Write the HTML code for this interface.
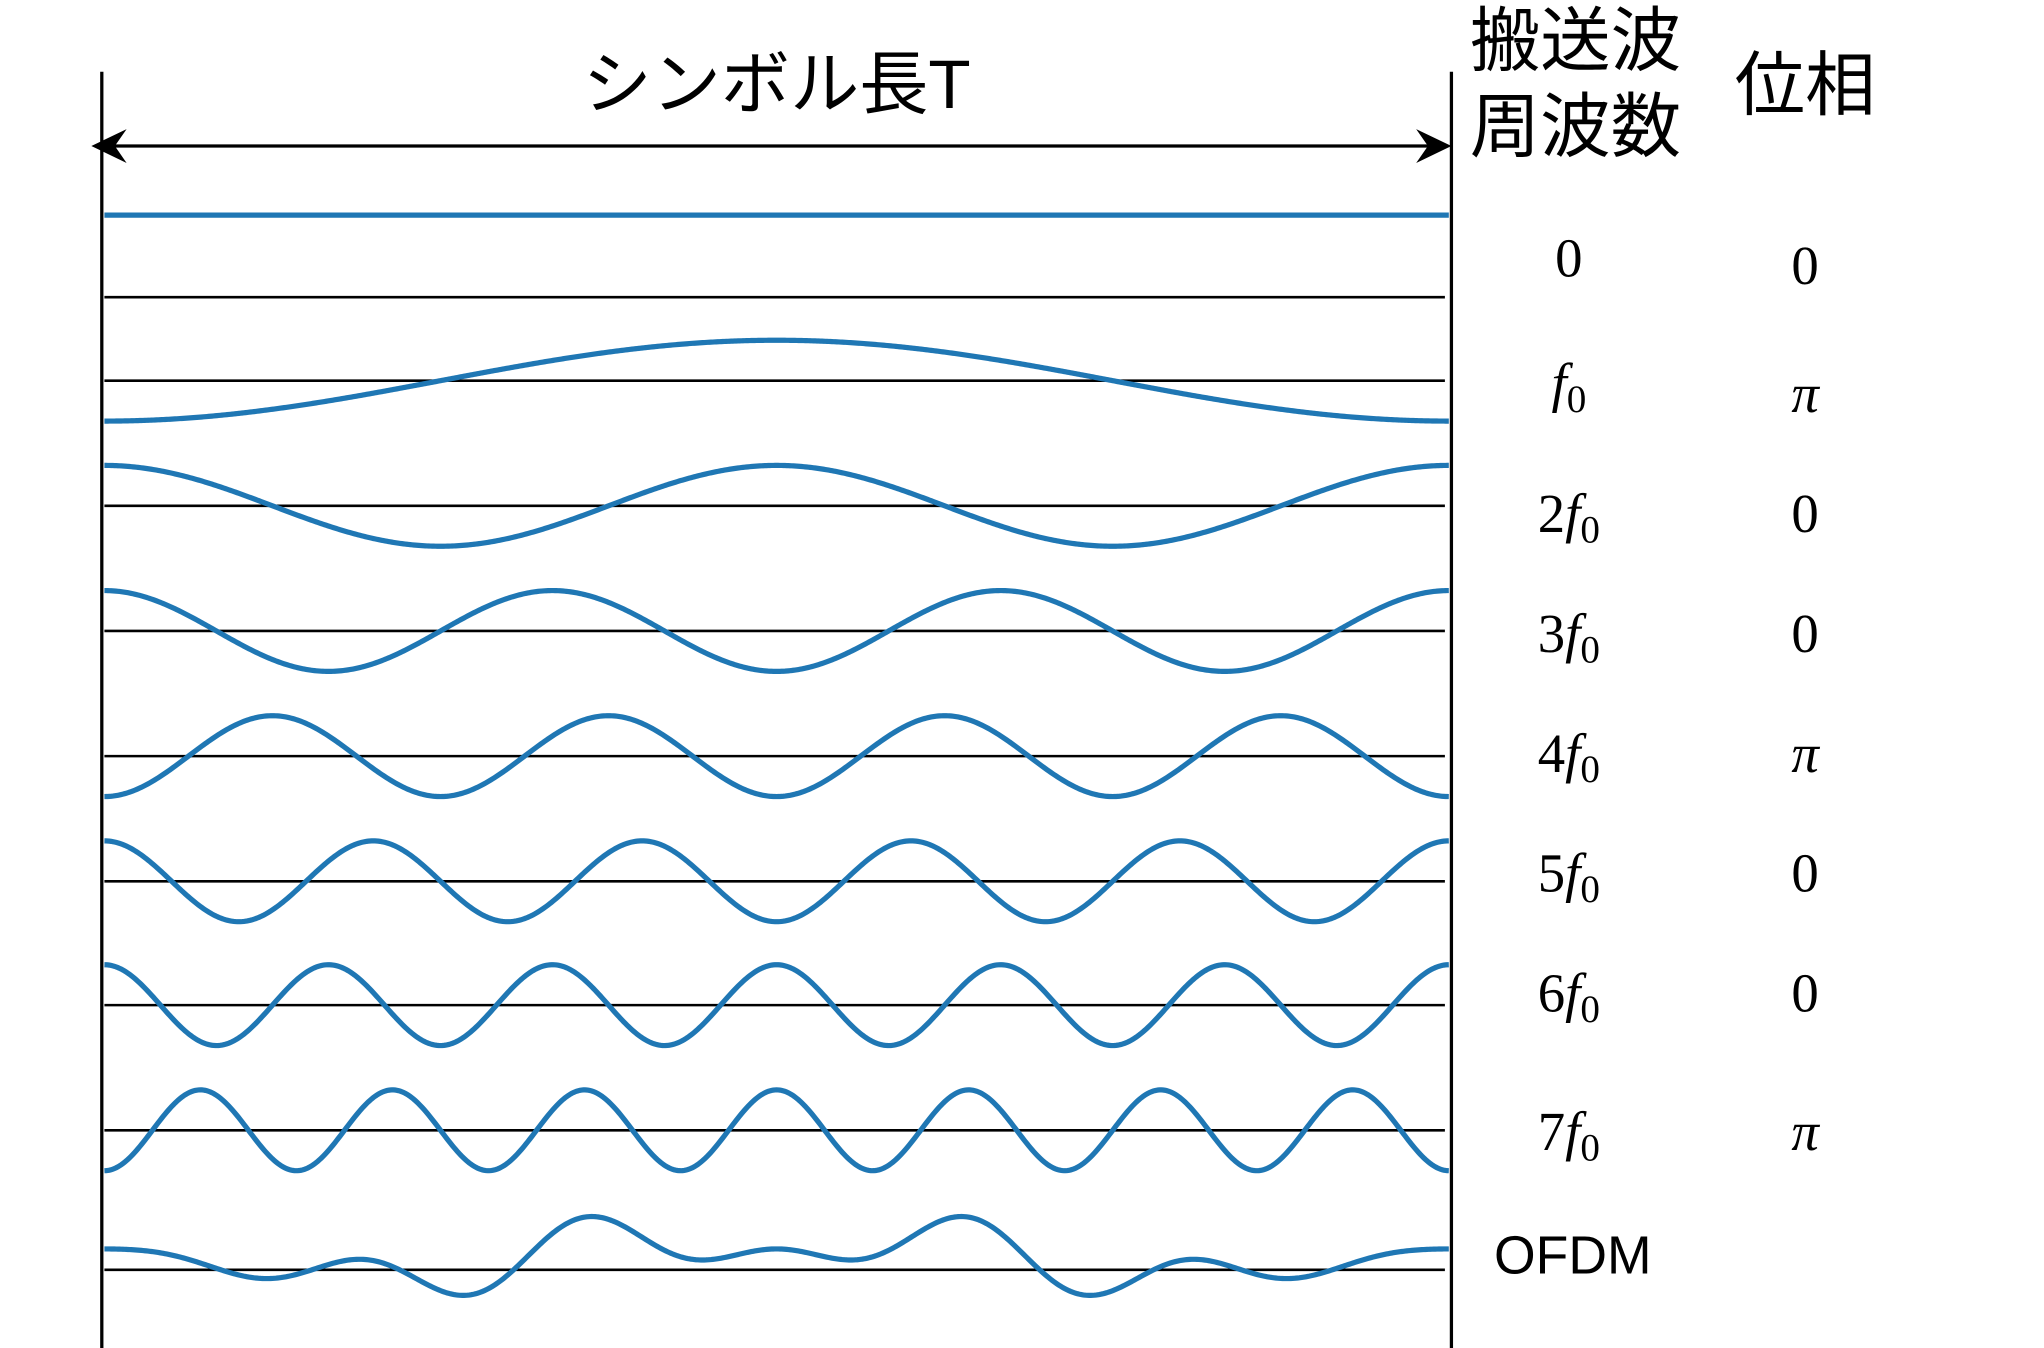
<!DOCTYPE html>
<html><head><meta charset="utf-8">
<style>
html,body{margin:0;padding:0;background:#fff;}
svg{display:block;}
.jp{font-family:"Liberation Sans","Noto Sans CJK JP",sans-serif;}
.m{font-family:"Liberation Serif","DejaVu Serif",serif;}
</style></head>
<body>
<svg id="chart" width="2044" height="1348" viewBox="0 0 1566 1034" preserveAspectRatio="none" xmlns="http://www.w3.org/2000/svg">
  <rect width="1566" height="1034" fill="#fff"/>
  <line x1="78" y1="55" x2="78" y2="1034" stroke="#000" stroke-width="2.5"/>
  <line x1="1112" y1="55" x2="1112" y2="1034" stroke="#000" stroke-width="2.5"/>
  <g>
    <line x1="80" y1="112" x2="1104" y2="112" stroke="#000" stroke-width="2.5"/>
    <polygon points="70,112 97,99 88,112 97,125" fill="#000"/>
    <polygon points="1112,112 1085,99 1094,112 1085,125" fill="#000"/>
  </g>
  <text class="jp" x="595" y="83" font-size="53" text-anchor="middle">シンボル長T</text>
  <text class="jp" font-size="54" text-anchor="middle"><tspan x="1207" y="50">搬送波</tspan><tspan x="1207" y="116">周波数</tspan></text>
  <text class="jp" x="1383" y="84" font-size="54" text-anchor="middle">位相</text>
  <g id="rows"></g>
  <text class="jp" x="1205" y="977" font-size="41" text-anchor="middle">OFDM</text>
</svg>
<script>
// carrier data
const carrierCycles = [0, 1, 2, 3, 4, 5, 6, 7];
const carrierPhases = [0, Math.PI, 0, 0, Math.PI, 0, 0, Math.PI];
const carrierAmps = [63, 31, 31, 31, 31, 31, 31, 31];
const freqMult = ["0", "1", "2", "3", "4", "5", "6", "7"];
const phaseLabels = ["0", "π", "0", "0", "π", "0", "0", "π"];
// OFDM = scale * (sum of unit carriers)
const ofdmWeights = [1, 1, 1, 1, 1, 1, 1, 1];
const ofdmScale = [8];

const NS = "http://www.w3.org/2000/svg";
const X0 = 80, X1 = 1110;
const baselines = [228, 292, 388, 484, 580, 676, 771, 867];
const ofdmBase = 974;
const labelY = [212, 308, 408, 500, 592, 684, 776, 882];
const phaseY = [218, 316, 408, 500, 592, 684, 776, 882];
const xs = t => X0 + t * (X1 - X0);
const g = document.getElementById('rows');

function mk(tag, attrs) { const e = document.createElementNS(NS, tag); for (const k in attrs) e.setAttribute(k, attrs[k]); g.appendChild(e); return e; }
const unit = (i, t) => Math.cos(2 * Math.PI * carrierCycles[i] * t + carrierPhases[i]);
const N = 800;

for (let i = 0; i < carrierCycles.length; i++) {
  const b = baselines[i];
  const base = mk('line', {x1: X0, y1: b, x2: 1107, y2: b, stroke: '#000', 'stroke-width': 2});
  
  
  let d = '';
  for (let j = 0; j <= N; j++) {
    const t = j / N;
    const v = carrierAmps[i] * unit(i, t);
    d += (j ? 'L' : 'M') + xs(t).toFixed(2) + ',' + (b - v).toFixed(2);
  }
  const p = mk('path', {d: d, fill: 'none', stroke: '#1f77b4', 'stroke-width': 4});
  
  
  const lt = mk('text', {x: 1202, y: labelY[i], 'font-size': 42, 'text-anchor': 'middle', class: 'm'});
  
  
  if (i === 0) lt.textContent = '0';
  else {
    const num = freqMult[i] === '1' ? '' : freqMult[i];
    lt.innerHTML = num + '<tspan font-style="italic">f</tspan><tspan font-size="30" dy="8">0</tspan>';
  }
  const pt = mk('text', {x: 1383, y: phaseY[i], 'font-size': 42, 'text-anchor': 'middle', class: 'm', 'font-style': phaseLabels[i] === 'π' ? 'italic' : 'normal'});
  
  
  pt.textContent = phaseLabels[i];
}

// OFDM
const ob = mk('line', {x1: X0, y1: ofdmBase, x2: 1107, y2: ofdmBase, stroke: '#000', 'stroke-width': 2});


let od = '';
for (let j = 0; j <= N; j++) {
  const t = j / N;
  let s = 0;
  for (let i = 0; i < carrierCycles.length; i++) s += ofdmWeights[i] * unit(i, t);
  od += (j ? 'L' : 'M') + xs(t).toFixed(2) + ',' + (ofdmBase - ofdmScale[0] * s).toFixed(2);
}
const op = mk('path', {d: od, fill: 'none', stroke: '#1f77b4', 'stroke-width': 4});


</script>
</body></html>
